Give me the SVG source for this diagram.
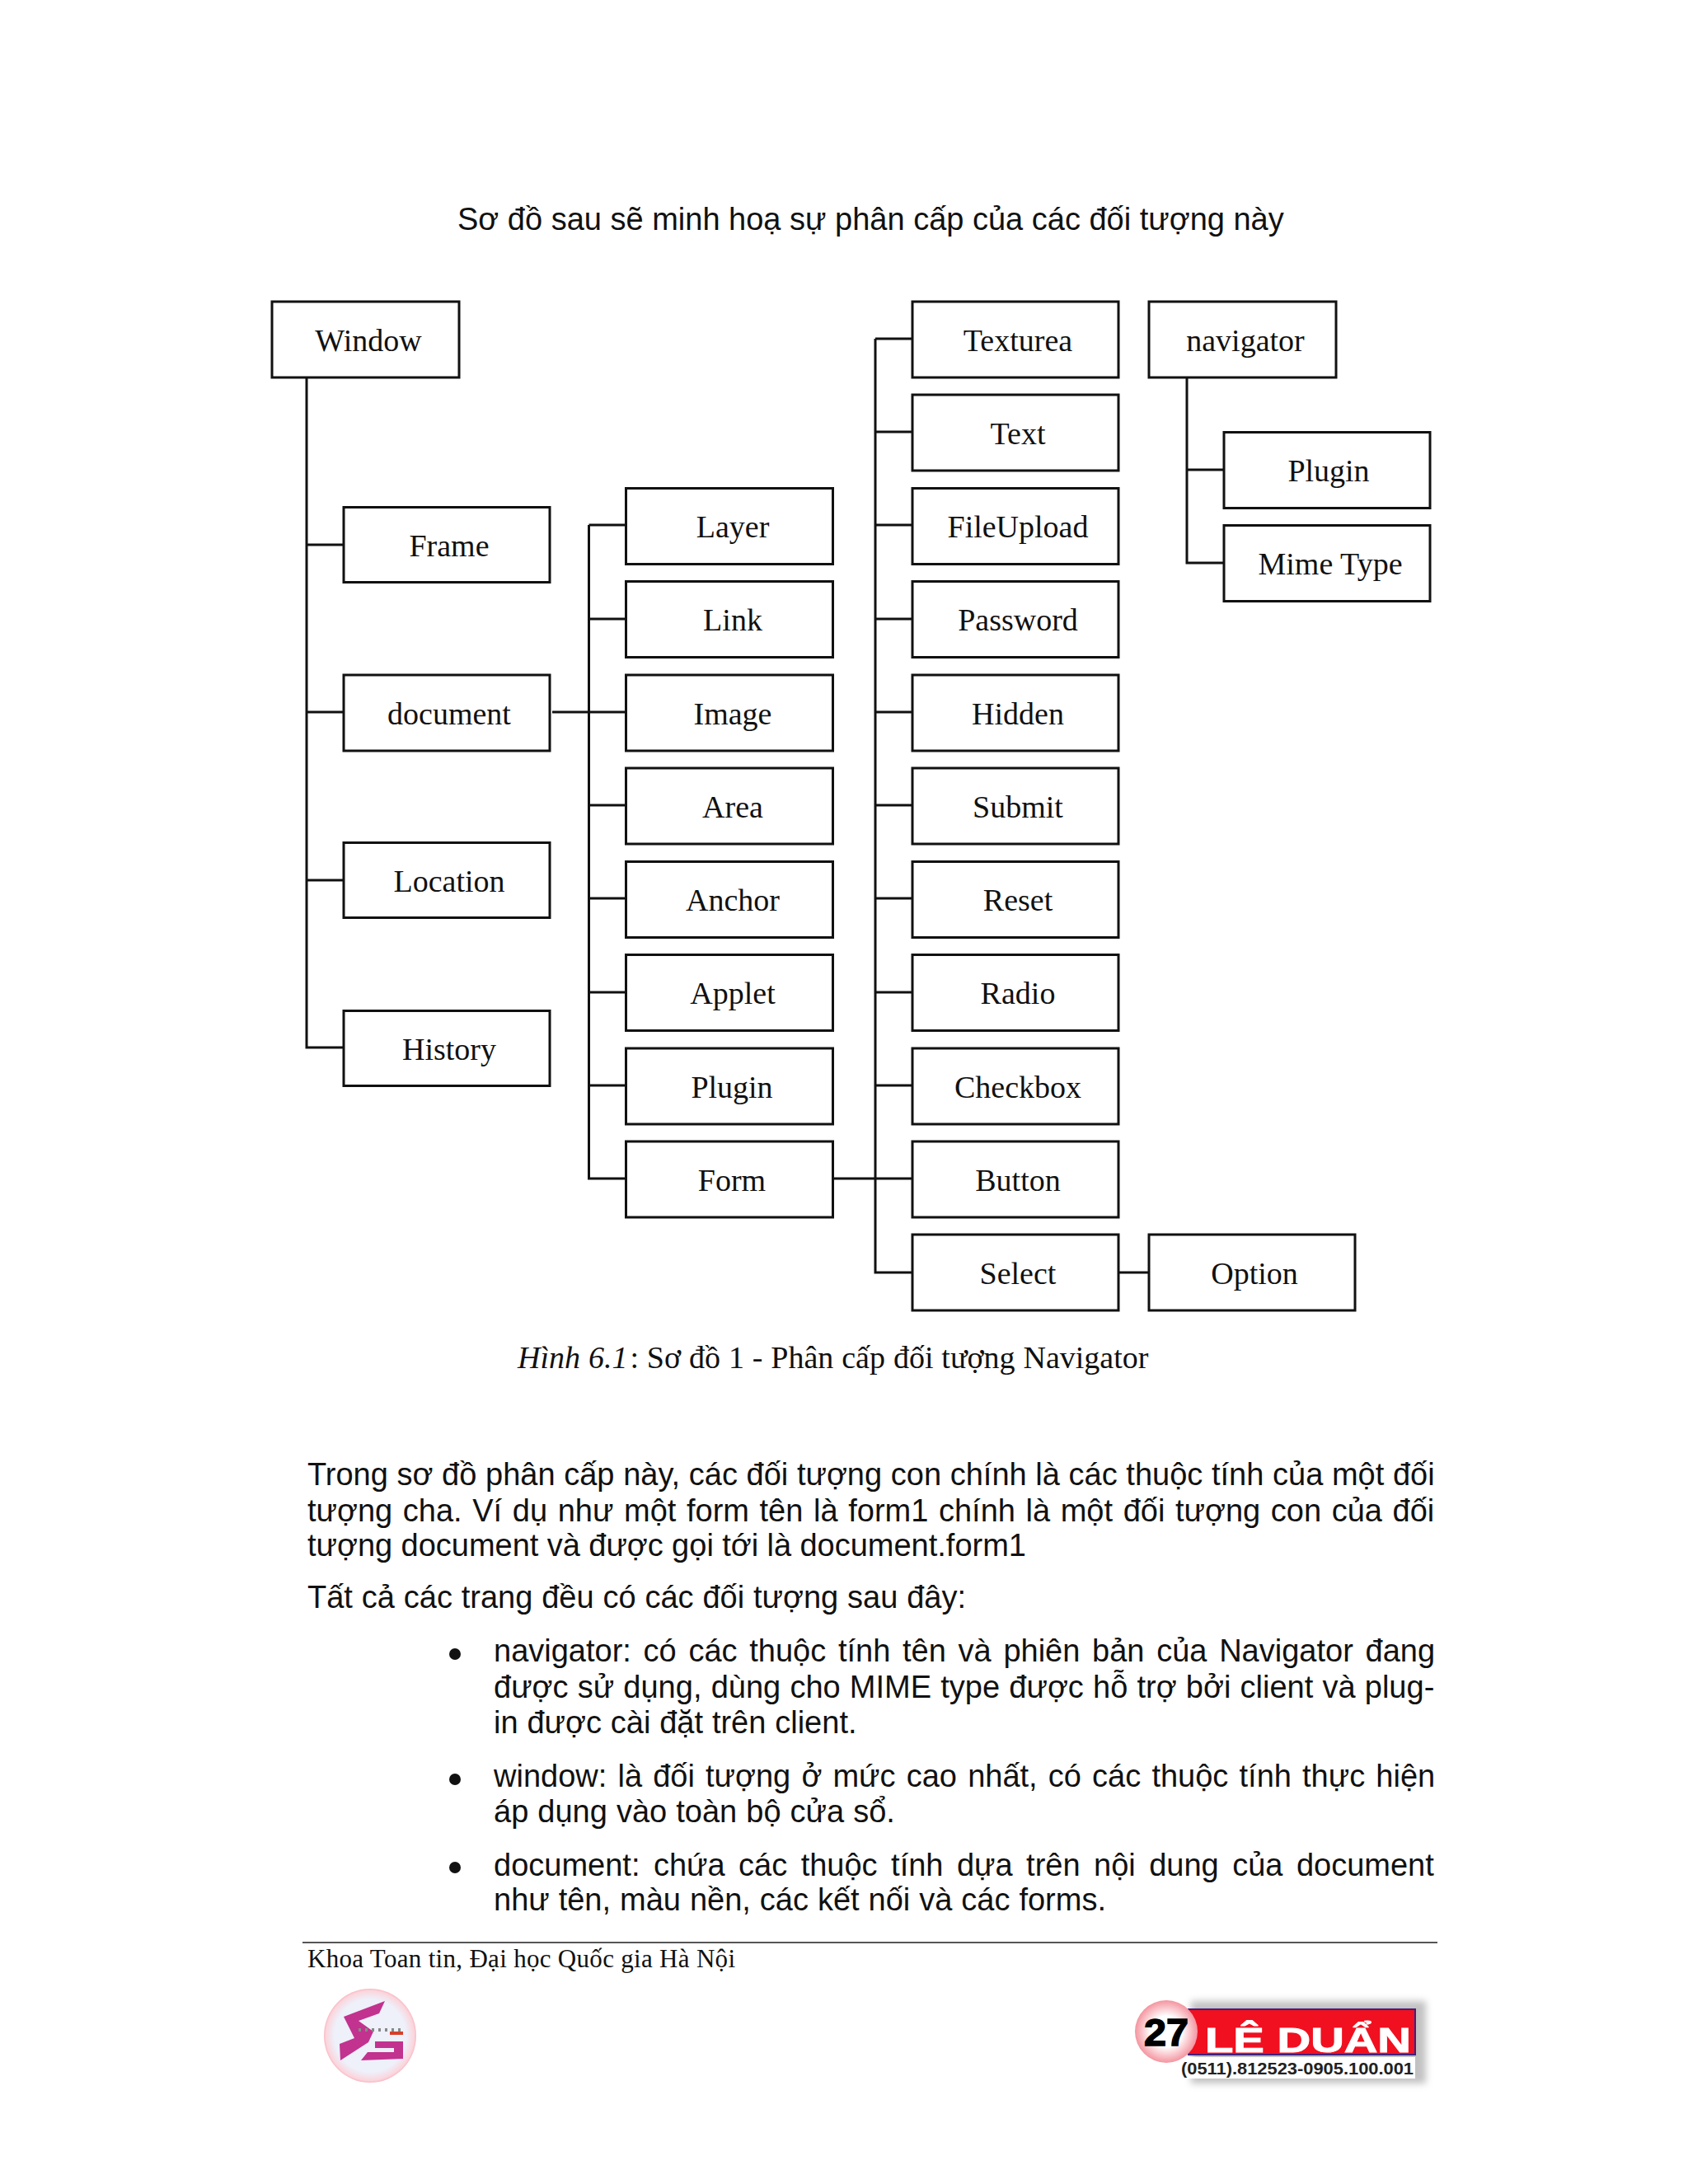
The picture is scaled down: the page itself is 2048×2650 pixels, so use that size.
<svg xmlns="http://www.w3.org/2000/svg" width="2048" height="2650" viewBox="0 0 2048 2650">
<style>
.n{fill:#fff;stroke:#111;stroke-width:3}
.l{font:38px "Liberation Serif",serif;fill:#111;text-anchor:middle}
.c{fill:none;stroke:#111;stroke-width:3}
.t{font:38px "Liberation Sans",Arial,sans-serif;fill:#111}
.s{font:38px "Liberation Serif",serif;fill:#111}
</style>
<defs>
<radialGradient id="ball" cx="50%" cy="50%" r="55%"><stop offset="0.45" stop-color="#fff"/><stop offset="1" stop-color="#f27f8c"/></radialGradient>
<radialGradient id="sg" cx="50%" cy="50%" r="52%"><stop offset="0.75" stop-color="#eef0fa"/><stop offset="0.92" stop-color="#fbd5dc"/><stop offset="1" stop-color="#f5a0ae"/></radialGradient>
<filter id="blur" x="-10%" y="-20%" width="120%" height="140%"><feGaussianBlur stdDeviation="4"/></filter>
<filter id="soft"><feGaussianBlur stdDeviation="0.7"/></filter>
</defs>
<rect width="2048" height="2650" fill="#fff"/>
<text class="t" x="555" y="279">Sơ đồ sau sẽ minh hoạ sự phân cấp của các đối tượng này</text>
<g id="connectors">
<path class="c" d="M372 458V1271H417M372 661H417M372 864H417M372 1068H417"/>
<path class="c" d="M670 864H759M714.500 637V1430H759M714.500 637H759M714.500 751H759M714.500 977H759M714.500 1090H759M714.500 1204H759M714.500 1317H759"/>
<path class="c" d="M1011 1430H1107M1062 411V1544H1107M1062 411H1107M1062 524H1107M1062 637H1107M1062 751H1107M1062 864H1107M1062 977H1107M1062 1090H1107M1062 1204H1107M1062 1317H1107"/>
<path class="c" d="M1357 1544H1394M1440 458V683H1485M1440 570H1485"/>
</g>
<g id="n-window"><rect class="n" x="330" y="366" width="227" height="92"/><text class="l" x="447" y="426">Window</text></g>
<g id="n-frame"><rect class="n" x="417" y="615.500" width="250" height="91"/><text class="l" x="545" y="675">Frame</text></g>
<g id="n-document"><rect class="n" x="417" y="819" width="250" height="92"/><text class="l" x="545" y="879">document</text></g>
<g id="n-location"><rect class="n" x="417" y="1022.500" width="250" height="91"/><text class="l" x="545" y="1082">Location</text></g>
<g id="n-history"><rect class="n" x="417" y="1226.500" width="250" height="91"/><text class="l" x="545" y="1286">History</text></g>
<g id="n-layer"><rect class="n" x="759.500" y="592.500" width="251" height="92"/><text class="l" x="889" y="652">Layer</text></g>
<g id="n-link"><rect class="n" x="759.500" y="705.500" width="251" height="92"/><text class="l" x="889" y="765">Link</text></g>
<g id="n-image"><rect class="n" x="759.500" y="819" width="251" height="92"/><text class="l" x="889" y="879">Image</text></g>
<g id="n-area"><rect class="n" x="759.500" y="932" width="251" height="92"/><text class="l" x="889" y="992">Area</text></g>
<g id="n-anchor"><rect class="n" x="759.500" y="1045.500" width="251" height="92"/><text class="l" x="889" y="1105">Anchor</text></g>
<g id="n-applet"><rect class="n" x="759.500" y="1158.500" width="251" height="92"/><text class="l" x="889" y="1218">Applet</text></g>
<g id="n-plugin1"><rect class="n" x="759.500" y="1272" width="251" height="92"/><text class="l" x="888" y="1332">Plugin</text></g>
<g id="n-form"><rect class="n" x="759.500" y="1385" width="251" height="92"/><text class="l" x="888" y="1445">Form</text></g>
<g id="n-texturea"><rect class="n" x="1107" y="366" width="250" height="92"/><text class="l" x="1235" y="426">Texturea</text></g>
<g id="n-text"><rect class="n" x="1107" y="479" width="250" height="92"/><text class="l" x="1235" y="539">Text</text></g>
<g id="n-fileupload"><rect class="n" x="1107" y="592.500" width="250" height="92"/><text class="l" x="1235" y="652">FileUpload</text></g>
<g id="n-password"><rect class="n" x="1107" y="705.500" width="250" height="92"/><text class="l" x="1235" y="765">Password</text></g>
<g id="n-hidden"><rect class="n" x="1107" y="819" width="250" height="92"/><text class="l" x="1235" y="879">Hidden</text></g>
<g id="n-submit"><rect class="n" x="1107" y="932" width="250" height="92"/><text class="l" x="1235" y="992">Submit</text></g>
<g id="n-reset"><rect class="n" x="1107" y="1045.500" width="250" height="92"/><text class="l" x="1235" y="1105">Reset</text></g>
<g id="n-radio"><rect class="n" x="1107" y="1158.500" width="250" height="92"/><text class="l" x="1235" y="1218">Radio</text></g>
<g id="n-checkbox"><rect class="n" x="1107" y="1272" width="250" height="92"/><text class="l" x="1235" y="1332">Checkbox</text></g>
<g id="n-button"><rect class="n" x="1107" y="1385" width="250" height="92"/><text class="l" x="1235" y="1445">Button</text></g>
<g id="n-select"><rect class="n" x="1107" y="1498" width="250" height="92"/><text class="l" x="1235" y="1558">Select</text></g>
<g id="n-option"><rect class="n" x="1394" y="1498" width="250" height="92"/><text class="l" x="1522" y="1558">Option</text></g>
<g id="n-navigator"><rect class="n" x="1394" y="366" width="227" height="92"/><text class="l" x="1511" y="426">navigator</text></g>
<g id="n-plugin2"><rect class="n" x="1485" y="524.500" width="250" height="92"/><text class="l" x="1612" y="584">Plugin</text></g>
<g id="n-mime"><rect class="n" x="1485" y="637.500" width="250" height="92"/><text class="l" x="1614" y="697">Mime Type</text></g>
<text class="s" x="628" y="1660" word-spacing="0.4"><tspan font-style="italic">Hình 6.1</tspan><tspan dx="3">: Sơ đồ 1 - Phân cấp đối tượng Navigator</tspan></text>
<g id="body">
<text class="t" x="373" y="1802" word-spacing="0.1">Trong sơ đồ phân cấp này, các đối tượng con chính là các thuộc tính của một đối</text>
<text class="t" x="373" y="1846" word-spacing="2.06">tượng cha. Ví dụ như một form tên là form1 chính là một đối tượng con của đối</text>
<text class="t" x="373" y="1888" word-spacing="-0.2">tượng document và được gọi tới là document.form1</text>
<text class="t" x="373" y="1951" word-spacing="0.3">Tất cả các trang đều có các đối tượng sau đây:</text>
<text class="t" x="599" y="2016" word-spacing="4.15">navigator: có các thuộc tính tên và phiên bản của Navigator đang</text>
<text class="t" x="599" y="2060" word-spacing="0.65">được sử dụng, dùng cho MIME type được hỗ trợ bởi client và plug-</text>
<text class="t" x="599" y="2103" word-spacing="0.3">in được cài đặt trên client.</text>
<text class="t" x="599" y="2168" word-spacing="2.6">window: là đối tượng ở mức cao nhất, có các thuộc tính thực hiện</text>
<text class="t" x="599" y="2211" word-spacing="0.5">áp dụng vào toàn bộ cửa sổ.</text>
<text class="t" x="599" y="2276" word-spacing="5.9">document: chứa các thuộc tính dựa trên nội dung của document</text>
<text class="t" x="599" y="2318" word-spacing="0.4">như tên, màu nền, các kết nối và các forms.</text>
<circle cx="552" cy="2007" r="7" fill="#111"/><circle cx="552" cy="2159" r="7" fill="#111"/><circle cx="552" cy="2266" r="7" fill="#111"/>
</g>
<path d="M367 2357H1744" stroke="#555" stroke-width="2"/>
<text x="373" y="2387" textLength="519" font-family="'Liberation Serif',serif" font-size="31" fill="#111">Khoa Toan tin, Đại học Quốc gia Hà Nội</text>
<g id="logo-sg">
<ellipse cx="449" cy="2470" rx="56" ry="57" fill="url(#sg)"/>
<g filter="url(#soft)">
<path d="M467 2428L460 2443L435 2452L453 2465L447 2478L413 2500L412 2480L430 2473L417 2447Z" fill="#c2318f"/>
<path d="M455 2477H489V2498L438 2500L446 2490H478V2485H455Z" fill="#c2318f"/>
<path d="M435 2463H490" stroke="#888" stroke-width="4" stroke-dasharray="3 5"/>
<path d="M473 2467H489" stroke="#d8402a" stroke-width="4"/>
</g>
</g>
<g id="logo-le-duan">
<rect x="1445" y="2428" width="285" height="100" fill="#999" filter="url(#blur)" opacity=".6"/>
<rect x="1433" y="2496" width="284" height="26" fill="#fff"/>
<rect x="1442" y="2438" width="275" height="55" fill="#f01020" stroke="#402080" stroke-width="2"/>
<circle cx="1415" cy="2465" r="38" fill="url(#ball)"/>
<text x="1388" y="2482" textLength="54" lengthAdjust="spacingAndGlyphs" font-family="'Liberation Sans',sans-serif" font-weight="700" font-size="47" stroke="#000" stroke-width="1.500" fill="#000">27</text>
<text x="1462" y="2490" textLength="250" lengthAdjust="spacingAndGlyphs" font-family="'Liberation Sans',sans-serif" font-weight="700" font-size="43" fill="#fff" stroke="#fff" stroke-width="1">LÊ DUẨN</text>
<text x="1433" y="2517" textLength="282" lengthAdjust="spacingAndGlyphs" font-family="'Liberation Sans',sans-serif" font-weight="700" font-size="21" fill="#222">(0511).812523-0905.100.001</text>
</g>
</svg>
